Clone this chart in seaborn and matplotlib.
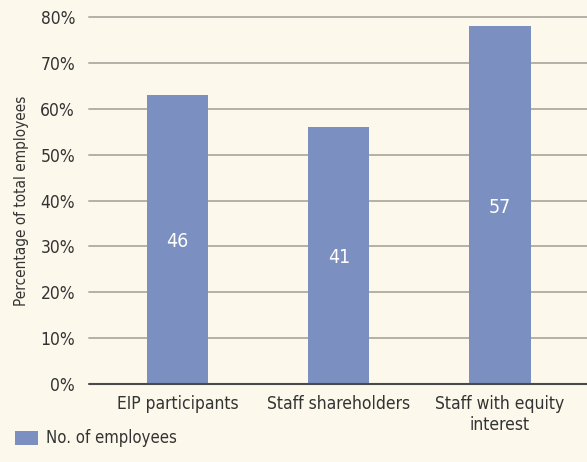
import matplotlib
matplotlib.use("Agg")
import matplotlib.pyplot as plt
import seaborn as sns
import pandas as pd
from matplotlib.ticker import PercentFormatter

categories = ["EIP participants", "Staff shareholders", "Staff with equity\ninterest"]
share_of_total = [0.63, 0.56, 0.78]
employee_counts = [46, 41, 57]
series_name = "No. of employees"

bg = "#FCF8EC"
bar_color = "#7B8FC0"
grid_color = "#B5B1A8"
text_color = "#333333"

sns.set_theme(style="white")
plt.rcParams["font.family"] = ["DejaVu Sans"]
plt.rcParams["font.stretch"] = "condensed"

df = pd.DataFrame({"category": categories, "share": share_of_total,
                   "count": employee_counts, "series": series_name})

fig = plt.figure(figsize=(5.87, 4.62), dpi=100, facecolor=bg)
ax = fig.add_axes([89 / 587, 1 - 384 / 462, 1 - 89 / 587, (384 - 17) / 462])
ax.set_facecolor(bg)

sns.barplot(data=df, x="category", y="share", hue="series",
            palette=[bar_color], width=0.38, ax=ax, saturation=1,
            linewidth=0, edgecolor=bar_color)

ax.set_xlim(-0.55, 2.54)
ax.set_ylim(0, 0.8)
ax.set_yticks([i / 10 for i in range(9)])
ax.yaxis.set_major_formatter(PercentFormatter(1.0, decimals=0))
for y in ax.get_yticks()[1:]:
    ax.axhline(y, color=grid_color, lw=1.4, zorder=0, clip_on=False)
ax.axhline(0, color="#4A4A4A", lw=1.5, zorder=3, clip_on=False)

for s in ax.spines.values():
    s.set_visible(False)
ax.tick_params(axis="both", length=0, labelsize=12.5, labelcolor=text_color)
ax.tick_params(axis="y", pad=10)
ax.tick_params(axis="x", pad=8)
ax.set_xlabel("")
ax.set_ylabel("Percentage of total employees", fontsize=11, color=text_color, labelpad=8)

# employee counts written inside each bar
for i, (share, count) in enumerate(zip(share_of_total, employee_counts)):
    ax.text(i, share / 2 - 0.005, str(count), ha="center", va="center",
            color="white", fontsize=14)

sns.move_legend(ax, loc="lower left", bbox_to_anchor=(8 / 587, 8 / 462),
                bbox_transform=fig.transFigure, frameon=False, title=None,
                fontsize=12, handlelength=1.4, handleheight=0.9,
                handletextpad=0.5, borderaxespad=0)
for t in ax.get_legend().get_texts():
    t.set_color(text_color)

fig.savefig("out.png", dpi=100, facecolor=bg)
